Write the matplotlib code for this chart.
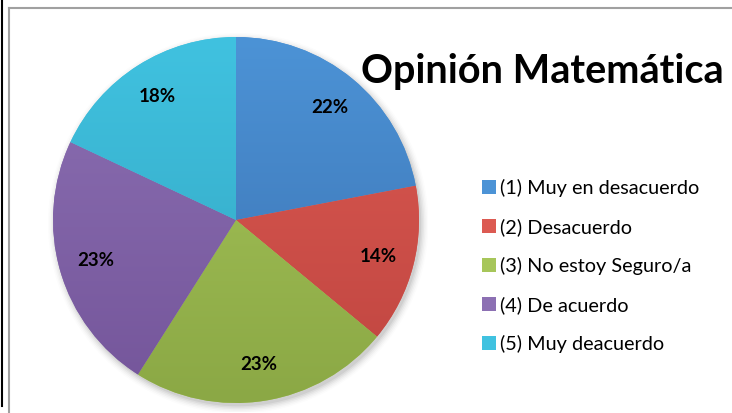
import matplotlib
matplotlib.use("Agg")
import matplotlib.pyplot as plt
import numpy as np
from matplotlib.lines import Line2D
from matplotlib.patches import Circle
from matplotlib.colors import LinearSegmentedColormap

# data
labels = ['(1) Muy en desacuerdo', '(2) Desacuerdo', '(3) No estoy Seguro/a',
          '(4) De acuerdo', '(5) Muy deacuerdo']
values = [22, 14, 23, 23, 18]
# (light, dark) per slice
colors_light = ['#4c93d6', '#dc5a52', '#a7c65a', '#8c70b3', '#40c2e0']
colors_dark = ['#3b70b0', '#bf4540', '#8ba845', '#74559a', '#33a4c0']
title = 'Opinión Matemática'

W, H = 732, 413
fig = plt.figure(figsize=(W / 100, H / 100), dpi=100)
fig.patch.set_facecolor('white')

# pie placed in pixel terms: center (236, 220), radius 183
cx, cy, r = 236, 220, 183
ax = fig.add_axes([(cx - r) / W, (H - cy - r) / H, 2 * r / W, 2 * r / H])
ax.axis('off')

# soft shadow
for i, a in enumerate(np.linspace(0.05, 0.012, 6)):
    ax.add_patch(Circle((0.012, -0.018), 1.0 + 0.008 * i, color='black',
                        alpha=a, lw=0, zorder=0))

wedges, texts, autotexts = ax.pie(values, colors=colors_light, startangle=90,
                                  counterclock=False, radius=1,
                                  autopct='%1.0f%%', pctdistance=0.8,
                                  wedgeprops=dict(linewidth=0))
for w, c1, c2 in zip(wedges, colors_light, colors_dark):
    cmap = LinearSegmentedColormap.from_list('g', [c1, c2])
    grad = np.linspace(0, 1, 256).reshape(-1, 1)
    im = ax.imshow(grad, cmap=cmap, extent=[-1, 1, -1, 1], origin='upper',
                   aspect='auto', zorder=1)
    im.set_clip_path(w)
for t in autotexts:
    t.set_fontfamily('Lato')
    t.set_fontweight('bold')
    t.set_fontsize(13.5)
    t.set_color('black')
    t.set_zorder(3)
ax.set_aspect('equal')
ax.set_xlim(-1.05, 1.05)
ax.set_ylim(-1.05, 1.05)
ax.set_position([(cx - r * 1.05) / W, (H - cy - r * 1.05) / H,
                 2 * r * 1.05 / W, 2 * r * 1.05 / H])

fig.text(542 / W, 1 - 71 / H, title, ha='center', va='center',
         fontfamily='Lato', fontweight='bold', fontsize=28.5)

leg = fig.legend(wedges, labels, loc='upper left',
                 bbox_to_anchor=(464 / W, 1 - 161 / H), frameon=False,
                 prop=dict(family='Lato', size=14.3), handlelength=0.7,
                 handleheight=0.7, handletextpad=0.22, labelspacing=1.06)

# frame lines
fig.add_artist(Line2D([9 / W, 1], [1 - 8 / H] * 2, transform=fig.transFigure,
                      color='#a0a0a0', lw=1.5))
fig.add_artist(Line2D([9 / W] * 2, [0, 1 - 8 / H], transform=fig.transFigure,
                      color='#a0a0a0', lw=1.5))
fig.add_artist(Line2D([1.5 / W] * 2, [1 - 406 / H, 1], transform=fig.transFigure,
                      color='black', lw=1.5))

fig.savefig('out.png', dpi=100)
